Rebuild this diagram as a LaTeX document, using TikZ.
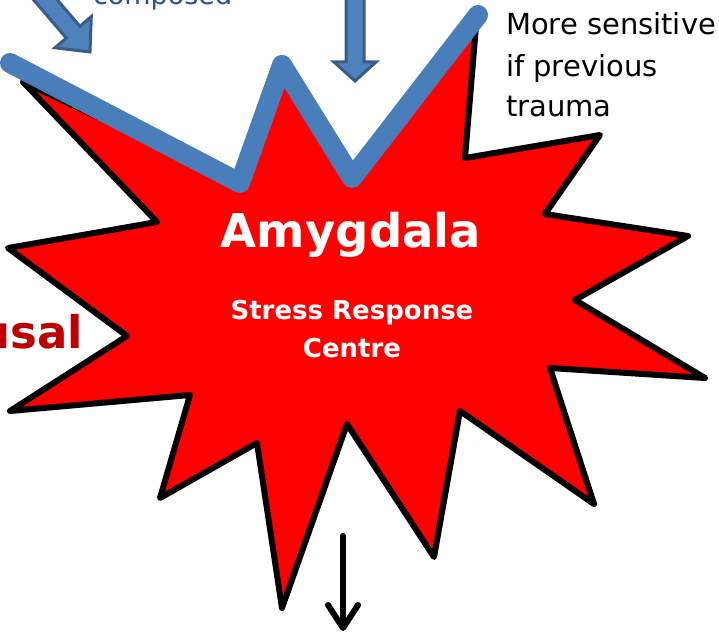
\documentclass[tikz,border=0pt]{standalone}
\usepackage{fontspec}
\setmainfont{DejaVu Sans}
\usetikzlibrary{arrows.meta}

\definecolor{starred}{RGB}{255,0,0}
\definecolor{zigblue}{RGB}{74,126,187}
\definecolor{arrowfill}{RGB}{79,129,189}
\definecolor{arrowedge}{RGB}{56,93,138}
\definecolor{textblue}{RGB}{40,80,140}
\definecolor{darkred}{RGB}{192,0,0}

\begin{document}
\begin{tikzpicture}[x=1pt,y=-1pt,
  burst/.style={fill=starred,draw=black,line width=6pt,line join=round},
  zigzag/.style={draw=zigblue,line width=20pt,line cap=round,line join=round},
  blockarrow/.style={fill=arrowfill,draw=arrowedge,line width=3pt,line join=miter},
  label/.style={inner sep=0pt,outer sep=0pt}]
\useasboundingbox (0,0) rectangle (719,636);
\clip (0,0) rectangle (719,636);

% the burst
\draw[burst] (23,82) -- (240,183) -- (282,67) -- (352,178) -- (476,26)
  -- (465,158) -- (600,135) -- (545,214) -- (688,236) -- (575,300)
  -- (705,378) -- (550,368) -- (594,504) -- (460,411) -- (434,557)
  -- (347,424) -- (282,608) -- (257,443) -- (160,498) -- (190,395)
  -- (10,411) -- (127,336) -- (8,248) -- (157,222) -- cycle;

% blue zigzag on top
\draw[zigzag] (10,63) -- (240,183) -- (282,65) -- (352,178) -- (478,15);

% block arrows from above
\draw[blockarrow] (34.4,-26.9) -- (79.9,26.3) -- (91.3,16.6) -- (90,52)
  -- (54.9,47.8) -- (66.3,38.1) -- (20.8,-15.1) -- cycle;
\draw[blockarrow] (346,-10) -- (346,62) -- (334,62) -- (355,81)
  -- (376,62) -- (364,62) -- (364,-10) -- cycle;

% texts
\node[label,anchor=base west,text=textblue,font=\fontsize{27}{32}\selectfont] (composed) at (93,5) {composed};
\node[label,anchor=base west,font=\fontsize{29}{41}\selectfont] (sens1) at (506,35) {More sensitive};
\node[label,anchor=base west,font=\fontsize{29}{41}\selectfont] (sens2) at (506,77) {if previous};
\node[label,anchor=base west,font=\fontsize{29}{41}\selectfont] (sens3) at (506,117) {trauma};

\node[label,anchor=base,text=white,font=\bfseries\fontsize{46.5}{50}\selectfont] (amyg) at (351,247) {Amygdala};
\node[label,anchor=base,text=white,font=\bfseries\fontsize{26}{30}\selectfont] (stress) at (352,319) {Stress Response};
\node[label,anchor=base,text=white,font=\bfseries\fontsize{26}{30}\selectfont] (centre) at (352,357) {Centre};

\node[label,anchor=base east,text=darkred,font=\bfseries\fontsize{45}{50}\selectfont] (arousal) at (83,348) {Arousal};

% arrow out of the burst
\coordinate (outtop) at (343,536);
\coordinate (outend) at (343,631);
\draw[line width=6pt,line cap=round,-{Straight Barb[length=23pt,width=30pt,round]}] (outtop) -- (outend);
\end{tikzpicture}
\end{document}
